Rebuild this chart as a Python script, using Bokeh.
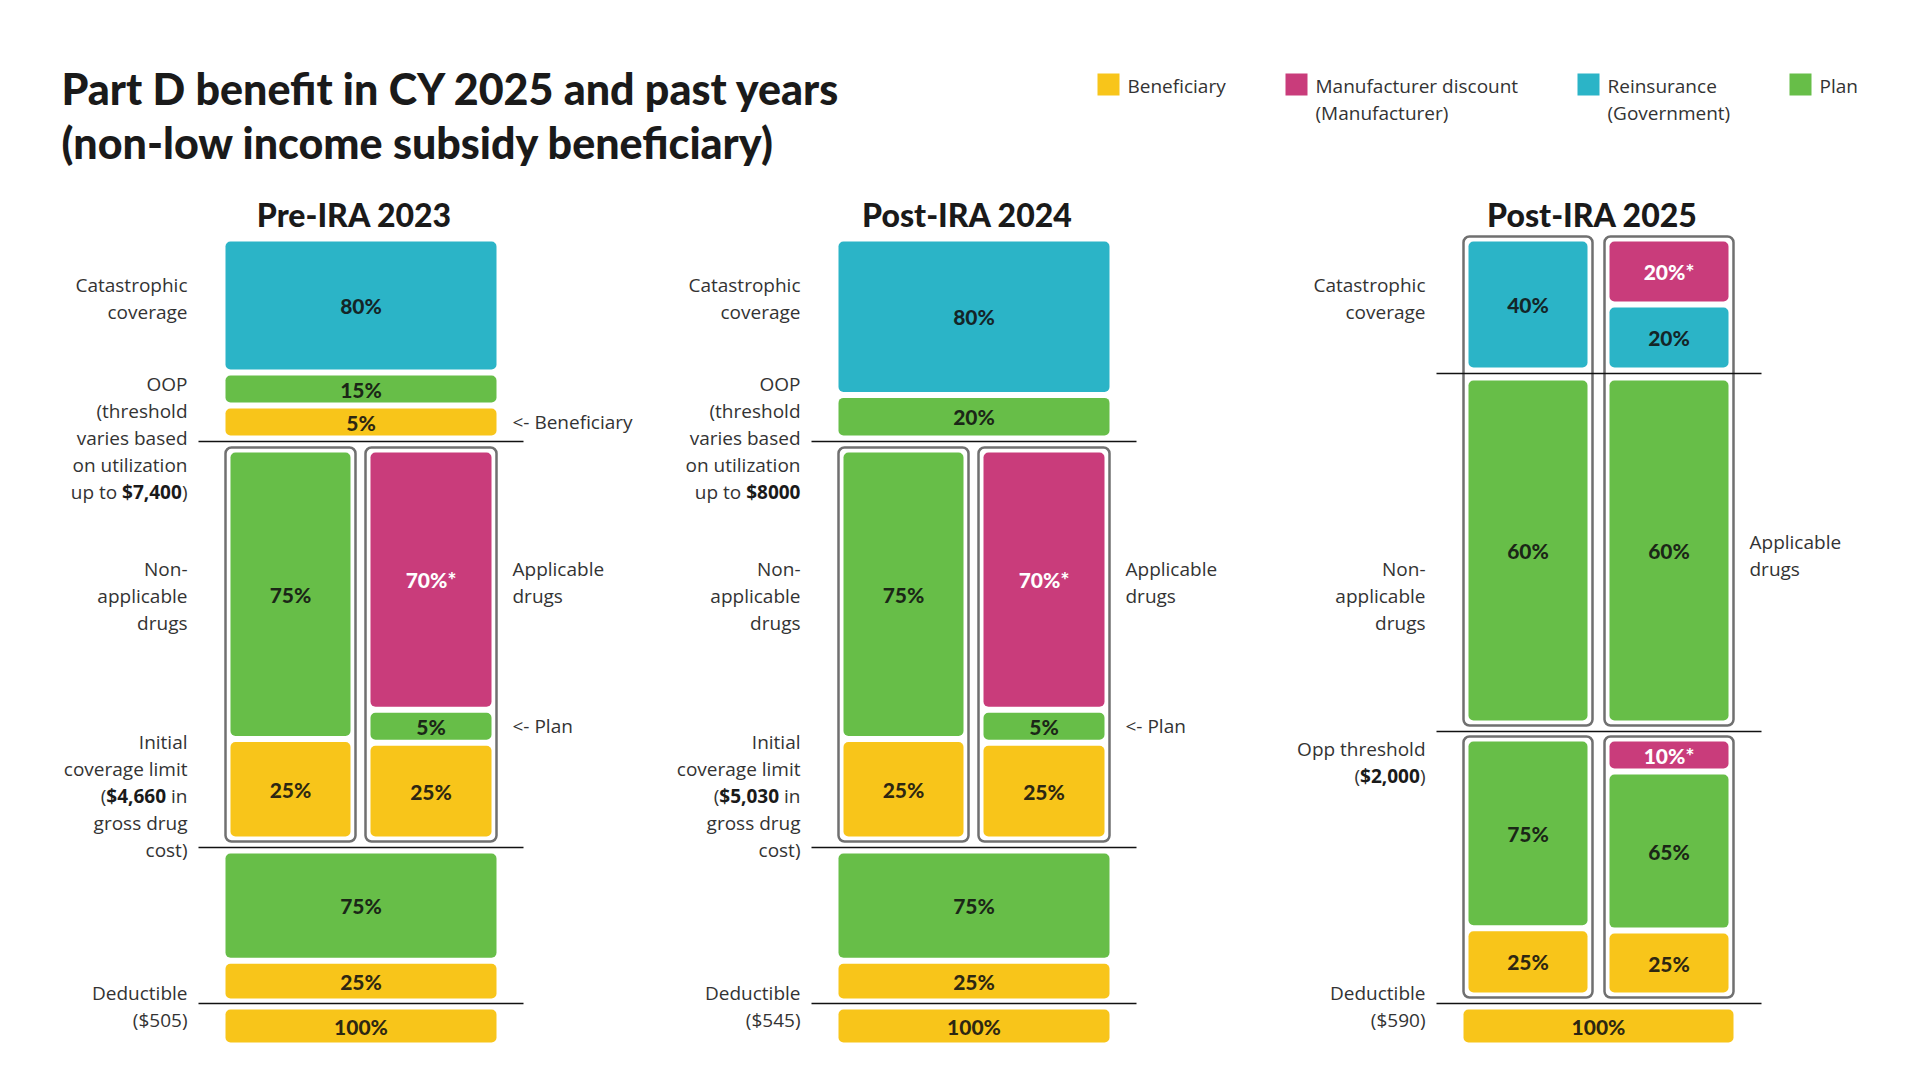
from bokeh.plotting import figure
from bokeh.models import ColumnDataSource, Range1d
from bokeh.core.properties import value
from bokeh.embed import file_html
from bokeh.resources import INLINE

# ---------------------------------------------------------------- data
title_lines = ["Part D benefit in CY 2025 and past years",
               "(non-low income subsidy beneficiary)"]
panel_titles = ["Pre-IRA 2023", "Post-IRA 2024", "Post-IRA 2025"]

payer_names = ["Beneficiary", "Manufacturer", "Reinsurance", "Plan"]
payer_legend = [["Beneficiary"],
                ["Manufacturer discount", "(Manufacturer)"],
                ["Reinsurance", "(Government)"],
                ["Plan"]]
payer_colors = ["#F8C51A", "#C93C7B", "#2BB4C7", "#67BE48"]

# dollar thresholds per benefit year
deductible_amounts = ["$505", "$545", "$590"]
initial_limits = ["$4,660", "$5,030"]
oop_thresholds = ["$7,400", "$8000", "$2,000"]

# Pre-IRA 2023: share of drug cost paid in each phase (top payer first)
pre23_catastrophic_payers = ["Reinsurance", "Plan", "Beneficiary"]
pre23_catastrophic_shares = [80, 15, 5]
pre23_gap_nonapplicable_payers = ["Plan", "Beneficiary"]
pre23_gap_nonapplicable_shares = [75, 25]
pre23_gap_applicable_payers = ["Manufacturer", "Plan", "Beneficiary"]
pre23_gap_applicable_shares = [70, 5, 25]
pre23_initial_payers = ["Plan", "Beneficiary"]
pre23_initial_shares = [75, 25]
pre23_deductible_payers = ["Beneficiary"]
pre23_deductible_shares = [100]

# Post-IRA 2024
post24_catastrophic_payers = ["Reinsurance", "Plan"]
post24_catastrophic_shares = [80, 20]
post24_gap_nonapplicable_payers = ["Plan", "Beneficiary"]
post24_gap_nonapplicable_shares = [75, 25]
post24_gap_applicable_payers = ["Manufacturer", "Plan", "Beneficiary"]
post24_gap_applicable_shares = [70, 5, 25]
post24_initial_payers = ["Plan", "Beneficiary"]
post24_initial_shares = [75, 25]
post24_deductible_payers = ["Beneficiary"]
post24_deductible_shares = [100]

# Post-IRA 2025
post25_catastrophic_nonapplicable_payers = ["Reinsurance"]
post25_catastrophic_nonapplicable_shares = [40]
post25_catastrophic_applicable_payers = ["Manufacturer", "Reinsurance"]
post25_catastrophic_applicable_shares = [20, 20]
post25_catastrophic_plan_nonapplicable_payers = ["Plan"]
post25_catastrophic_plan_nonapplicable_shares = [60]
post25_catastrophic_plan_applicable_payers = ["Plan"]
post25_catastrophic_plan_applicable_shares = [60]
post25_initial_nonapplicable_payers = ["Plan", "Beneficiary"]
post25_initial_nonapplicable_shares = [75, 25]
post25_initial_applicable_payers = ["Manufacturer", "Plan", "Beneficiary"]
post25_initial_applicable_shares = [10, 65, 25]
post25_deductible_payers = ["Beneficiary"]
post25_deductible_shares = [100]

# ---------------------------------------------------------------- styling
W, H = 1920, 1080
BODY = "Open Sans"
HEAVY = "Lato Black"
BODY_PX = 19
LINE = 27
BODY_COLOR = "#333333"
INK = "#1a1a1a"
GAP = 6          # white gap between stacked segments
FLOOR = 27       # smallest segment height so its label stays legible
COLOR_OF = dict(zip(payer_names, payer_colors))

p = figure(width=W, height=H, output_backend="svg", toolbar_location=None,
           x_range=Range1d(0, W), y_range=Range1d(H, 0),
           x_axis_location=None, y_axis_location=None,
           min_border=0, outline_line_color=None)
p.grid.visible = False
p.background_fill_color = "white"

# text collected per style, drawn at the end
_text_groups = {}


def add_text(x, y, txt, px, font, style, color, align):
    key = (px, font, style, color, align)
    g = _text_groups.setdefault(key, dict(x=[], y=[], text=[]))
    g["x"].append(x)
    g["y"].append(y)
    g["text"].append(txt)


# approximate advance widths (em) used to place mixed regular/bold runs
_REG = {" ": 0.26, "(": 0.296, ")": 0.296, "$": 0.572, ",": 0.245,
        "u": 0.613, "p": 0.613, "t": 0.352, "o": 0.602, "i": 0.252, "n": 0.613}
_BOLD = {" ": 0.26, "(": 0.33, ")": 0.33, "$": 0.572, ",": 0.29}


def run_width(t, bold, px):
    table = _BOLD if bold else _REG
    return sum(table.get(c, 0.572) for c in t) * px


def label_block(x, y0, lines, align="right"):
    for i, line in enumerate(lines):
        y = y0 + i * LINE
        if isinstance(line, str):
            add_text(x, y, line, BODY_PX, BODY, "normal", BODY_COLOR, align)
            continue
        widths = [run_width(t, b, BODY_PX) for t, b in line]
        cx = x - sum(widths) if align == "right" else x
        for (t, b), w in zip(line, widths):
            lead = len(t) - len(t.lstrip(" "))
            add_text(cx + lead * _REG[" "] * BODY_PX, y, t.strip(), BODY_PX, BODY,
                     "bold" if b else "normal", INK if b else BODY_COLOR, "left")
            cx += w


def allocate(total, shares, floor):
    """Split total proportionally to shares, with a minimum segment height."""
    fixed = [False] * len(shares)
    while True:
        free_total = total - floor * sum(fixed)
        free_sum = sum(s for s, f in zip(shares, fixed) if not f)
        h = [floor if f else free_total * s / free_sum for s, f in zip(shares, fixed)]
        small = [i for i, v in enumerate(h) if not fixed[i] and v < floor]
        if not small:
            return h
        for i in small:
            fixed[i] = True


seg = dict(left=[], right=[], top=[], bottom=[], color=[])
seg_labels = {"dark": dict(x=[], y=[], text=[]), "light": dict(x=[], y=[], text=[])}
frames = dict(left=[], right=[], top=[], bottom=[])
rules = dict(x0=[], x1=[], y=[])


def stack(xl, xr, y_top, y_bot, payers, shares):
    """Stack segments from top to bottom within a band; returns segment centres."""
    avail = (y_bot - y_top) - GAP * (len(shares) - 1)
    heights = allocate(avail, shares, FLOOR)
    y = y_top
    centres = {}
    for payer, share, h in zip(payers, shares, heights):
        seg["left"].append(xl)
        seg["right"].append(xr)
        seg["top"].append(y)
        seg["bottom"].append(y + h)
        seg["color"].append(COLOR_OF[payer])
        star = "*" if payer == "Manufacturer" else ""
        grp = seg_labels["light" if payer == "Manufacturer" else "dark"]
        grp["x"].append((xl + xr) / 2)
        grp["y"].append(y + h / 2)
        grp["text"].append(f"{share}%{star}")
        centres[payer] = y + h / 2
        y += h + GAP
    return centres


def frame(xl, xr, yt, yb):
    frames["left"].append(xl)
    frames["right"].append(xr)
    frames["top"].append(yt)
    frames["bottom"].append(yb)


def rule(x0, x1, y):
    rules["x0"].append(x0)
    rules["x1"].append(x1)
    rules["y"].append(y)


# ---------------------------------------------------------------- title + legend
add_text(61, 88, title_lines[0], 43, HEAVY, "normal", INK, "left")
add_text(61, 142, title_lines[1], 43, HEAVY, "normal", INK, "left")

legend_x = [1097, 1285, 1577, 1789]
leg = dict(left=[], right=[], top=[], bottom=[], color=[])
for lx, lines, col in zip(legend_x, payer_legend, payer_colors):
    leg["left"].append(lx)
    leg["right"].append(lx + 22)
    leg["top"].append(73)
    leg["bottom"].append(95)
    leg["color"].append(col)
    for j, ln in enumerate(lines):
        add_text(lx + 30, 85 + j * 27, ln, BODY_PX, BODY, "normal", BODY_COLOR, "left")

# ---------------------------------------------------------------- 2023 and 2024 panels
classic = [
    (0, 0,
     (pre23_catastrophic_payers, pre23_catastrophic_shares),
     (pre23_gap_nonapplicable_payers, pre23_gap_nonapplicable_shares),
     (pre23_gap_applicable_payers, pre23_gap_applicable_shares),
     (pre23_initial_payers, pre23_initial_shares),
     (pre23_deductible_payers, pre23_deductible_shares)),
    (1, 613,
     (post24_catastrophic_payers, post24_catastrophic_shares),
     (post24_gap_nonapplicable_payers, post24_gap_nonapplicable_shares),
     (post24_gap_applicable_payers, post24_gap_applicable_shares),
     (post24_initial_payers, post24_initial_shares),
     (post24_deductible_payers, post24_deductible_shares)),
]

for k, dx, cat, gap_n, gap_a, init, ded in classic:
    add_text(354 + dx, 214, panel_titles[k], 32, HEAVY, "normal", INK, "center")
    frame(225 + dx, 355 + dx, 447, 841)
    frame(365 + dx, 496 + dx, 447, 841)
    rule(198 + dx, 523 + dx, 441)
    rule(198 + dx, 523 + dx, 847)
    rule(198 + dx, 523 + dx, 1003)

    c_cat = stack(225 + dx, 496 + dx, 241, 435, *cat)
    stack(230 + dx, 350 + dx, 452, 836, *gap_n)
    c_app = stack(370 + dx, 491 + dx, 452, 836, *gap_a)
    stack(225 + dx, 496 + dx, 853, 998, *init)
    stack(225 + dx, 496 + dx, 1009, 1042, *ded)

    xl = 187 + dx
    label_block(xl, 284, ["Catastrophic", "coverage"])
    oop_last = [("up to ", False), (oop_thresholds[k], True)]
    if k == 0:
        oop_last.append((")", False))
    label_block(xl, 383, ["OOP", "(threshold", "varies based", "on utilization", oop_last])
    label_block(xl, 568, ["Non-", "applicable", "drugs"])
    label_block(xl, 741, ["Initial", "coverage limit",
                          [("(", False), (initial_limits[k], True), (" in", False)],
                          "gross drug", "cost)"])
    label_block(xl, 992, ["Deductible", f"({deductible_amounts[k]})"])

    xr = 512 + dx
    if "Beneficiary" in c_cat and len(cat[1]) == 3:
        label_block(xr, c_cat["Beneficiary"], ["<- Beneficiary"], align="left")
    label_block(xr, 568, ["Applicable", "drugs"], align="left")
    label_block(xr, c_app["Plan"], ["<- Plan"], align="left")

# ---------------------------------------------------------------- 2025 panel
add_text(1592, 214, panel_titles[2], 32, HEAVY, "normal", INK, "center")
for yt, yb in [(236, 725), (736, 997)]:
    frame(1463, 1592, yt, yb)
    frame(1604, 1733, yt, yb)
for y in (373, 731, 1003):
    rule(1436, 1761, y)

stack(1468, 1587, 241, 367, post25_catastrophic_nonapplicable_payers,
      post25_catastrophic_nonapplicable_shares)
stack(1609, 1728, 241, 367, post25_catastrophic_applicable_payers,
      post25_catastrophic_applicable_shares)
stack(1468, 1587, 380, 720, post25_catastrophic_plan_nonapplicable_payers,
      post25_catastrophic_plan_nonapplicable_shares)
stack(1609, 1728, 380, 720, post25_catastrophic_plan_applicable_payers,
      post25_catastrophic_plan_applicable_shares)
stack(1468, 1587, 741, 992, post25_initial_nonapplicable_payers,
      post25_initial_nonapplicable_shares)
stack(1609, 1728, 741, 992, post25_initial_applicable_payers,
      post25_initial_applicable_shares)
stack(1463, 1733, 1009, 1042, post25_deductible_payers, post25_deductible_shares)

label_block(1425, 284, ["Catastrophic", "coverage"])
label_block(1425, 568, ["Non-", "applicable", "drugs"])
label_block(1425, 748, ["Opp threshold",
                        [("(", False), (oop_thresholds[2], True), (")", False)]])
label_block(1425, 992, ["Deductible", f"({deductible_amounts[2]})"])
label_block(1749, 541, ["Applicable", "drugs"], align="left")

# ---------------------------------------------------------------- draw
p.quad(left="left", right="right", top="top", bottom="bottom",
       source=ColumnDataSource(frames), fill_color="white",
       line_color="#707070", line_width=2.5, border_radius=6)
p.segment(x0="x0", x1="x1", y0="y", y1="y", source=ColumnDataSource(rules),
          line_color="#111111", line_width=1.5)
p.quad(left="left", right="right", top="top", bottom="bottom",
       source=ColumnDataSource(seg), fill_color="color", line_color=None,
       border_radius=5)
p.quad(left="left", right="right", top="top", bottom="bottom",
       source=ColumnDataSource(leg), fill_color="color", line_color=None)

p.text(x="x", y="y", text="text", source=ColumnDataSource(seg_labels["dark"]),
       text_font=value(HEAVY), text_font_size=value("21px"),
       text_color="#111111", text_alpha=0.88,
       text_align="center", text_baseline="middle")
p.text(x="x", y="y", text="text", source=ColumnDataSource(seg_labels["light"]),
       text_font=value(HEAVY), text_font_size=value("21px"),
       text_color="white", text_align="center", text_baseline="middle")

for (px, font, style, color, align), g in _text_groups.items():
    p.text(x="x", y="y", text="text", source=ColumnDataSource(g),
           text_font=value(font), text_font_size=value(f"{px}px"),
           text_font_style=style, text_color=color,
           text_align=align, text_baseline="middle")

open("out.html", "w").write(file_html(p, INLINE))
